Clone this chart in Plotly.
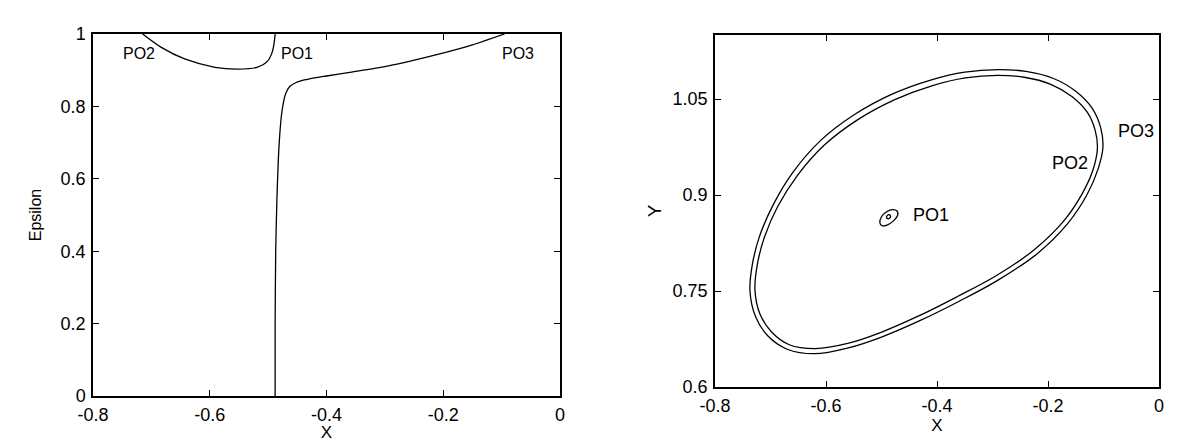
import plotly.graph_objects as go

# ---- Left panel: Epsilon vs X branches ----
branch_a_x = [-0.488, -0.488, -0.487, -0.485, -0.481, -0.476, -0.470, -0.463, -0.452, -0.438, -0.420, -0.400, -0.360, -0.310, -0.260, -0.206, -0.150, -0.095]
branch_a_y = [0.000, 0.200, 0.400, 0.540, 0.700, 0.790, 0.835, 0.855, 0.866, 0.873, 0.879, 0.884, 0.894, 0.907, 0.924, 0.945, 0.970, 1.000]

branch_b_x = [-0.488, -0.490, -0.493, -0.501, -0.519, -0.552, -0.591, -0.643, -0.683, -0.715]
branch_b_y = [1.000, 0.972, 0.950, 0.925, 0.908, 0.903, 0.908, 0.931, 0.963, 1.000]

left_labels = ["PO2", "PO1", "PO3"]
left_label_x = [-0.722, -0.451, -0.072]
left_label_y = [0.947, 0.947, 0.947]

# ---- Right panel: orbits in X-Y plane ----
po3_x = [-0.737, -0.733, -0.720, -0.695, -0.660, -0.610, -0.550, -0.480, -0.410, -0.350, -0.290, -0.240, -0.190, -0.150, -0.120, -0.105, -0.101, -0.110, -0.130, -0.165, -0.220, -0.290, -0.360, -0.430, -0.500, -0.560, -0.620, -0.670, -0.705, -0.727, -0.737]
po3_y = [0.750, 0.790, 0.835, 0.885, 0.935, 0.985, 1.025, 1.058, 1.080, 1.092, 1.096, 1.093, 1.082, 1.062, 1.035, 1.005, 0.975, 0.940, 0.900, 0.855, 0.808, 0.767, 0.734, 0.704, 0.678, 0.661, 0.652, 0.659, 0.680, 0.710, 0.750]

po2_x = [-0.728, -0.724, -0.711, -0.687, -0.652, -0.603, -0.544, -0.476, -0.408, -0.349, -0.291, -0.243, -0.195, -0.157, -0.129, -0.115, -0.111, -0.119, -0.139, -0.173, -0.227, -0.295, -0.364, -0.433, -0.502, -0.561, -0.619, -0.666, -0.698, -0.719, -0.728]
po2_y = [0.751, 0.790, 0.834, 0.882, 0.930, 0.978, 1.017, 1.049, 1.071, 1.083, 1.087, 1.084, 1.073, 1.054, 1.029, 1.001, 0.973, 0.939, 0.901, 0.858, 0.813, 0.773, 0.741, 0.711, 0.685, 0.668, 0.660, 0.666, 0.686, 0.714, 0.751]

po1_outer_x = [-0.503, -0.500, -0.492, -0.481, -0.472, -0.471, -0.478, -0.490, -0.499, -0.503]
po1_outer_y = [0.857, 0.866, 0.873, 0.877, 0.875, 0.868, 0.860, 0.853, 0.852, 0.857]
po1_inner_x = [-0.491, -0.488, -0.484, -0.485, -0.489, -0.491]
po1_inner_y = [0.865, 0.869, 0.868, 0.864, 0.863, 0.865]

right_labels = ["PO1", "PO2", "PO3"]
right_label_x = [-0.446, -0.161, -0.041]
right_label_y = [0.869, 0.950, 1.000]
right_label_anchor = ["left", "center", "center"]

FONT = "Liberation Sans, Arial, sans-serif"
line_style = dict(color="black", width=1.3)

fig = go.Figure()
fig.add_trace(go.Scatter(x=branch_a_x, y=branch_a_y, mode="lines", line=dict(shape="spline", smoothing=0.6, **line_style), xaxis="x", yaxis="y"))
fig.add_trace(go.Scatter(x=branch_b_x, y=branch_b_y, mode="lines", line=dict(shape="spline", smoothing=0.8, **line_style), xaxis="x", yaxis="y"))
for xs, ys in [(po3_x, po3_y), (po2_x, po2_y), (po1_outer_x, po1_outer_y), (po1_inner_x, po1_inner_y)]:
    fig.add_trace(go.Scatter(x=xs, y=ys, mode="lines", line=dict(shape="spline", smoothing=1.0, **line_style), xaxis="x2", yaxis="y2"))

ann = []
for t, x, y in zip(left_labels, left_label_x, left_label_y):
    ann.append(dict(text=t, x=x, y=y, xref="x", yref="y", showarrow=False, font=dict(family=FONT, size=16, color="black")))
for t, x, y, a in zip(right_labels, right_label_x, right_label_y, right_label_anchor):
    ann.append(dict(text=t, x=x, y=y, xref="x2", yref="y2", xanchor=a, showarrow=False, font=dict(family=FONT, size=18, color="black")))

axis_common = dict(showline=True, linecolor="black", linewidth=1.5, mirror="ticks", ticks="inside", ticklen=6, tickcolor="black", tickwidth=1.2, showgrid=False, zeroline=False, automargin=False, tickfont=dict(family=FONT, size=18, color="black"))

W, H = 1196, 442
fig.update_layout(
    width=W, height=H,
    margin=dict(l=0, r=0, t=0, b=0),
    paper_bgcolor="white", plot_bgcolor="white",
    showlegend=False,
    annotations=ann,
    xaxis=dict(domain=[93 / W, 560 / W], range=[-0.8, 0], tickvals=[-0.8, -0.6, -0.4, -0.2, 0], ticktext=["-0.8", "-0.6", "-0.4", "-0.2", "0"],
               ticklabelstandoff=2,
               title=dict(text="X", font=dict(family=FONT, size=17, color="black"), standoff=4), anchor="y", **axis_common),
    yaxis=dict(domain=[(H - 396) / H, (H - 34) / H], range=[0, 1], tickvals=[0, 0.2, 0.4, 0.6, 0.8, 1], ticktext=["0", "0.2", "0.4", "0.6", "0.8", "1"],
               ticklabelstandoff=2,
               title=dict(text="Epsilon", font=dict(family=FONT, size=16, color="black"), standoff=15), anchor="x", **axis_common),
    xaxis2=dict(domain=[715 / W, 1159 / W], range=[-0.8, 0], tickvals=[-0.8, -0.6, -0.4, -0.2, 0], ticktext=["-0.8", "-0.6", "-0.4", "-0.2", "0"],
                ticklabelstandoff=2,
                title=dict(text="X", font=dict(family=FONT, size=17, color="black"), standoff=4), anchor="y2", **axis_common),
    yaxis2=dict(domain=[(H - 387) / H, (H - 35) / H], range=[0.6, 1.15], tickvals=[0.6, 0.75, 0.9, 1.05], ticktext=["0.6", "0.75", "0.9", "1.05"],
                ticklabelstandoff=2,
                title=dict(text="Y", font=dict(family=FONT, size=19, color="black"), standoff=6), anchor="x2", **axis_common),
)

fig.write_html("out.html", config={"displayModeBar": False},
               post_script="document.body.style.margin='0';document.body.style.overflow='hidden';")
